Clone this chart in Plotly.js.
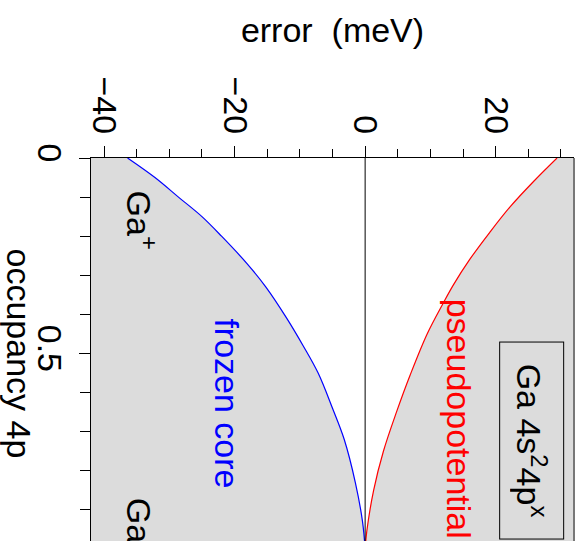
<!DOCTYPE html>
<html>
<head>
<meta charset="utf-8">
<script src="https://cdn.plot.ly/plotly-3.0.1.min.js"></script>
<style>
html, body { margin: 0; padding: 0; overflow: hidden; background: #fff; }
#chart { width: 583px; height: 600px; }
</style>
</head>
<body>
<div id="chart"></div>
<script>
// occupancy of the 4p level (vertical axis, 0 at top)
const occFrozen = [0, 0.05, 0.10, 0.15, 0.20, 0.27, 0.33, 0.41, 0.48, 0.55, 0.64, 0.72, 0.83, 0.93, 1.0];
const errFrozen = [-36.4, -32.2, -28.6, -25.0, -22.0, -18.1, -15.2, -12.0, -9.5, -7.2, -5.0, -3.2, -1.5, -0.4, 0];

const occPseudo = [0, 0.06, 0.125, 0.19, 0.26, 0.325, 0.37, 0.45, 0.555, 0.65, 0.75, 0.85, 0.955, 1.0];
const errPseudo = [29.4, 25.8, 22.2, 19.1, 16.0, 13.5, 12.0, 9.5, 6.9, 4.8, 2.8, 1.3, 0.25, 0];

const xTickVals = [-40, -20, 0, 20];
const xTickText = ['\u221240', '\u221220', '0', '20'];
const yTickVals = [0, 0.5];
const yTickText = ['0', '0.5'];

const FONT = 'Liberation Sans, Arial, Helvetica, sans-serif';
const FS = 34;
const GREY = '#dcdcdc';

const traces = [
  {
    x: errFrozen, y: occFrozen, mode: 'lines', name: 'frozen core',
    line: { color: '#0000ff', width: 1.2, shape: 'spline', smoothing: 1 },
    hoverinfo: 'skip', showlegend: false
  },
  {
    x: errPseudo, y: occPseudo, mode: 'lines', name: 'pseudopotential',
    line: { color: '#ff0000', width: 1.2, shape: 'spline', smoothing: 1 },
    fill: 'tonextx', fillcolor: '#ffffff',
    hoverinfo: 'skip', showlegend: false
  }
];

const layout = {
  width: 583, height: 600,
  margin: { l: 91, r: 9, t: 158, b: 51 },
  paper_bgcolor: '#ffffff',
  plot_bgcolor: GREY,
  font: { family: FONT, size: FS, color: '#000' },
  showlegend: false,
  xaxis: {
    side: 'top', range: [-42, 32], showgrid: false, zeroline: false,
    showline: true, linecolor: '#000', linewidth: 1,
    tickmode: 'array', tickvals: xTickVals, ticktext: xTickText,
    tickangle: 90, ticks: 'outside', ticklen: 11, tickcolor: '#000', tickwidth: 1,
    ticklabelstandoff: 0,
    tickfont: { family: FONT, size: FS, color: '#000' },
    minor: { dtick: 5, tick0: 0, ticks: 'outside', ticklen: 8, tickcolor: '#000', tickwidth: 1, showgrid: false },
    title: { text: 'error\u00a0\u00a0(meV)', font: { family: FONT, size: FS, color: '#000' }, standoff: 23 }
  },
  yaxis: {
    range: [1, 0], showgrid: false, zeroline: false,
    showline: true, linecolor: '#000', linewidth: 1,
    tickmode: 'array', tickvals: yTickVals, ticktext: yTickText,
    tickangle: 90, ticks: 'outside', ticklen: 11, tickcolor: '#000', tickwidth: 1,
    tickfont: { family: FONT, size: FS, color: '#000' },
    minor: { dtick: 0.1, tick0: 0, ticks: 'outside', ticklen: 10, tickcolor: '#000', tickwidth: 1, showgrid: false }
  },
  shapes: [
    { type: 'line', xref: 'x', yref: 'paper', x0: 0, x1: 0, y0: 0, y1: 1, layer: 'above',
      line: { color: '#000', width: 1 } },
    { type: 'line', xref: 'paper', yref: 'paper', x0: 1, x1: 1, y0: 0, y1: 1, layer: 'above',
      line: { color: '#777', width: 2 } }
  ],
  annotations: [
    { text: 'occupancy 4p', xref: 'paper', yref: 'paper', x: -0.147, y: 0.5,
      xanchor: 'center', yanchor: 'middle', textangle: 90, showarrow: false,
      font: { family: FONT, size: FS, color: '#000' } },
    { text: 'Ga<sup>+</sup>', xref: 'x', yref: 'y', x: -34.3, y: 0.158,
      textangle: 90, showarrow: false, font: { family: FONT, size: FS, color: '#000' } },
    { text: 'Ga', xref: 'x', yref: 'y', x: -34.6, y: 0.926,
      textangle: 90, showarrow: false, font: { family: FONT, size: FS, color: '#000' } },
    { text: 'frozen core', xref: 'x', yref: 'y', x: -21.2, y: 0.627,
      textangle: 90, showarrow: false, font: { family: FONT, size: FS, color: '#0000ff' } },
    { text: 'pseudopotential', xref: 'x', yref: 'y', x: 14.4, y: 0.667,
      textangle: 90, showarrow: false, font: { family: FONT, size: FS, color: '#ff0000' } },
    { text: 'Ga 4s<sup>2</sup>4p<sup>x</sup>', xref: 'x', yref: 'y', x: 25.46, y: 0.7234,
      textangle: 90, showarrow: false, bordercolor: '#000', borderwidth: 1, borderpad: 10,
      width: 176, align: 'center',
      bgcolor: GREY, font: { family: FONT, size: FS, color: '#000' } }
  ]
};

Plotly.newPlot('chart', traces, layout, { displayModeBar: false, staticPlot: true });
</script>
</body>
</html>
